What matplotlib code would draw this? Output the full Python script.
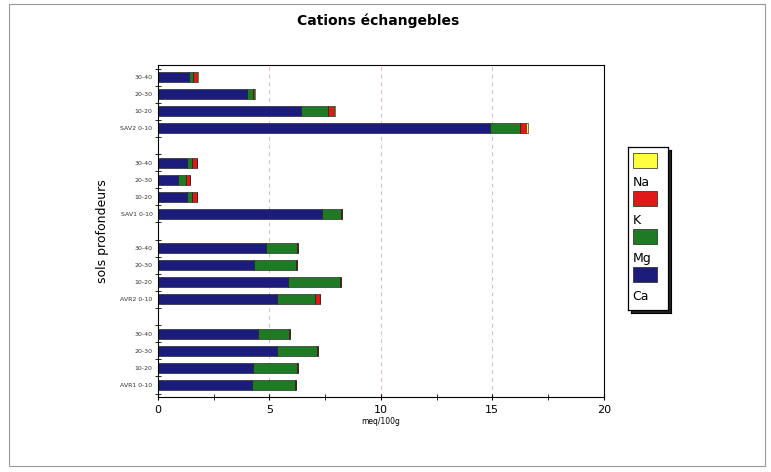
import matplotlib.pyplot as plt
from matplotlib.patches import Rectangle

# rows from bottom to top, '' = empty gap row
labels = ['AVR1 0-10', '10-20', '20-30', '30-40', '',
          'AVR2 0-10', '10-20', '20-30', '30-40', '',
          'SAV1 0-10', '10-20', '20-30', '30-40', '',
          'SAV2 0-10', '10-20', '20-30', '30-40']

# meq/100g per cation, same order as labels (0 in gap rows)
ca = [4.2, 4.27, 5.32, 4.49, 0, 5.32, 5.81, 4.32, 4.84, 0,
      7.38, 1.31, 0.91, 1.31, 0, 14.9, 6.4, 3.98, 1.39]
mg = [1.95, 1.95, 1.82, 1.37, 0, 1.72, 2.35, 1.85, 1.41, 0,
      0.85, 0.2, 0.35, 0.2, 0, 1.36, 1.24, 0.3, 0.19]
k = [0.05, 0.06, 0.04, 0.04, 0, 0.22, 0.04, 0.05, 0.02, 0,
     0.02, 0.25, 0.17, 0.25, 0, 0.27, 0.25, 0.03, 0.18]
na = [0, 0, 0, 0, 0, 0, 0, 0, 0, 0,
      0, 0, 0, 0, 0, 0.09, 0.07, 0.05, 0.02]

names = ['Ca', 'Mg', 'K', 'Na']
colors = ['#1c1c7c', '#1e7b24', '#e01818', '#ffff40']

fig = plt.figure(figsize=(7.71, 4.72), dpi=100)
fig.patches.append(Rectangle((0.012, 0.012), 0.98, 0.98, transform=fig.transFigure,
                             fill=False, edgecolor='#999999', linewidth=0.8))
ax = fig.add_axes([0.205, 0.159, 0.578, 0.703])

y = list(range(len(labels)))
left = [0] * len(labels)
for vals, c in zip([ca, mg, k, na], colors):
    ax.barh(y, vals, left=left, height=0.58, color=c, edgecolor='#101010', linewidth=0.4)
    left = [a + b for a, b in zip(left, vals)]

ax.set_xlim(0, 20)
ax.set_ylim(-0.7, len(labels) - 0.3)
ax.set_xticks([0, 5, 10, 15, 20])
ax.set_xticks([2.5, 7.5, 12.5, 17.5], minor=True)
ax.set_yticks(y)
ax.set_yticklabels(labels, fontsize=4.5, color='#333333')
ax.set_yticks([i - 0.5 for i in range(len(labels) + 1)], minor=True)
ax.tick_params(axis='y', which='major', length=0, pad=4)
ax.tick_params(axis='y', which='minor', length=4, direction='inout')
ax.tick_params(axis='x', which='both', length=4, direction='inout', labelsize=8)
for s in ax.spines.values():
    s.set_linewidth(0.8)
for xv in [5, 10, 15]:
    ax.axvline(xv, color='#d8b8c8', linestyle=(0, (4, 4)), linewidth=0.7, zorder=0)

ax.set_xlabel('meq/100g', fontsize=5.5, labelpad=2)
ax.set_ylabel('sols profondeurs', fontsize=9, labelpad=8)
fig.text(0.49, 0.955, 'Cations échangebles', ha='center', va='center',
         fontsize=10, fontweight='bold')

# legend box drawn by hand (patch above each label, like the original)
shadow = fig.add_axes([0.8185, 0.337, 0.052, 0.345])
shadow.set_facecolor('#222222')
shadow.set_xticks([])
shadow.set_yticks([])
lg = fig.add_axes([0.815, 0.343, 0.052, 0.345])
lg.set_xlim(0, 1)
lg.set_ylim(0, 1)
lg.set_xticks([])
lg.set_yticks([])
for s in lg.spines.values():
    s.set_linewidth(0.9)
leg_colors = ['#ffff40', '#e01818', '#1e7b24', '#1c1c7c']
leg_names = ['Na', 'K', 'Mg', 'Ca']
for i, (c, n) in enumerate(zip(leg_colors, leg_names)):
    top = 0.963 - i * 0.233
    lg.add_patch(Rectangle((0.12, top - 0.09), 0.6, 0.09, facecolor=c, edgecolor='#222222', linewidth=0.5))
    lg.text(0.1, top - 0.178, n, fontsize=9, va='center', ha='left')

fig.savefig('out.png', dpi=100)
